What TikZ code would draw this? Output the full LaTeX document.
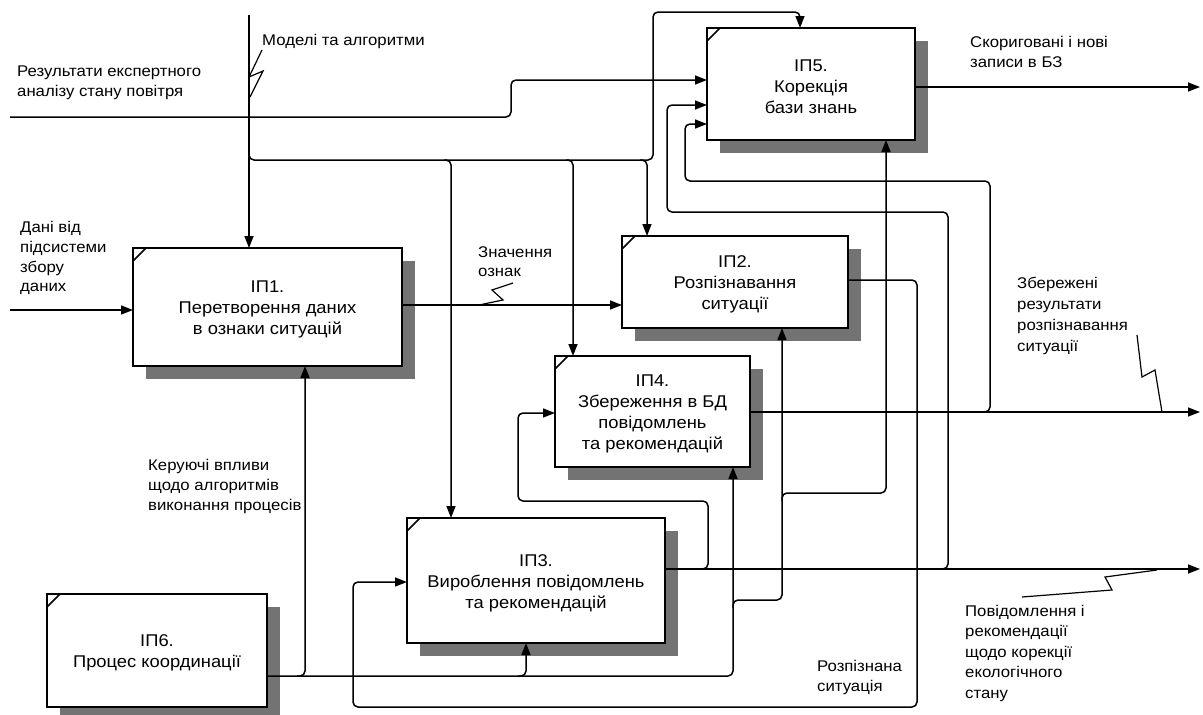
\documentclass[tikz,border=0pt]{standalone}
\usepackage{fontspec}
\setmainfont[FakeStretch=1.08]{Liberation Sans}
\usetikzlibrary{arrows.meta}
\newcommand\idefbox[6]{%
  \fill[shadowfill] (#2+13,#3+13) rectangle ++(#4,#5);
  \node[box, minimum width=#4pt, minimum height=#5pt] (#1) at (#2,#3) {};
  \node[boxtext] (#1t) at ([yshift=-2.5pt]#1.center) {#6};
  \draw[conn] (#2,#3+13) -- (#2+13,#3);
}
\begin{document}
\begin{tikzpicture}[x=1pt,y=-1pt,
  box/.style={draw, line width=2.6pt, fill=white, inner sep=0pt, outer sep=0pt,
    anchor=north west},
  boxtext/.style={inner sep=0pt, align=center, font=\fontsize{17}{21}\selectfont},
  shadowfill/.style={fill=black!55},
  lbl/.style={anchor=north west, align=left, inner sep=0pt,
    font=\fontsize{15.5}{19.8}\selectfont},
  conn/.style={line width=1.5pt, rounded corners=5pt},
  arr/.style={conn, -{Triangle[length=12pt,width=9pt]}},
  zig/.style={line width=1.2pt},
]
\useasboundingbox (0,0) rectangle (1203,715);
\fill[white] (0,0) rectangle (1203,715);
\clip (0,0) rectangle (1203,715);

% boxes
\idefbox{p1}{133}{248}{269}{118}{ІП1.\\Перетворення даних\\в ознаки ситуацій}
\idefbox{p5}{707}{28}{208}{112}{ІП5.\\Корекція\\бази знань}
\idefbox{p2}{622}{236}{226}{92}{ІП2.\\Розпізнавання\\ситуації}
\idefbox{p4}{555}{356}{195}{111}{ІП4.\\Збереження в БД\\повідомлень\\та рекомендацій}
\idefbox{p3}{407}{518}{258}{125}{ІП3.\\Вироблення повідомлень\\та рекомендацій}
\idefbox{p6}{47}{594}{220}{113}{ІП6.\\Процес координації}

% free ends
\coordinate (m0) at (249,15);
\coordinate (r0) at (10,117);
\coordinate (d0) at (10,310);
\coordinate (o5) at (1200,87);
\coordinate (o4) at (1200,412);
\coordinate (o3) at (1200,569);

% models & algorithms (control)
\draw[arr] (m0) -- (m0 |- p1.north);
\draw[arr] (249,150) -- (249,160) -- (653,160) -- (653,12) -- (800,12) -- (p5.north -| 800,0);
\draw[arr] (444,160) -- (451,160) -- (p3.north -| 451,0);
\draw[arr] (566,160) -- (573,160) -- (p4.north -| 573,0);
\draw[arr] (640,160) -- (647,160) -- (p2.north -| 647,0);

% expert analysis
\draw[arr] (r0) -- (511,117) -- (511,80) -- (p5.west |- 0,80);
% input data
\draw[arr] (d0) -- (p1.west |- d0);
% IP1 -> IP2
\draw[arr] (p1.east |- 0,305) -- (p2.west |- 0,305);
% IP2 output loop -> IP3
\draw[arr] (p2.east |- 0,280) -- (917,280) -- (917,707) -- (353,707) -- (353,582) -- (p3.west |- 0,582);
% IP3 output
\draw[arr] (p3.east |- 0,569) -- (o3);
\draw[arr] (700,569) -- (708,569) -- (708,501) -- (518,501) -- (518,413) -- (p4.west |- 0,413);
\draw[arr] (940,569) -- (948,569) -- (948,212) -- (667,212) -- (667,105) -- (p5.west |- 0,105);
% IP4 output
\draw[arr] (p4.east |- 0,412) -- (o4);
\draw[arr] (982,412) -- (990,412) -- (990,181) -- (685,181) -- (685,124) -- (p5.west |- 0,124);
% IP5 output
\draw[arr] (p5.east |- 0,87) -- (o5);
% IP6 output (mechanisms)
\draw[arr] (p6.east |- 0,676) -- (733,676) -- (p4.south -| 733,0);
\draw[arr] (297,676) -- (305,676) -- (p1.south -| 305,0);
\draw[arr] (518,676) -- (526,676) -- (p3.south -| 526,0);
\draw[arr] (733,608) -- (733,600) -- (782,600) -- (p2.south -| 782,0);
\draw[arr] (782,501) -- (782,493) -- (886,493) -- (p5.south -| 886,0);

% squiggles
\draw[zig] (262,50) -- (249,77) -- (263,71) -- (250,97);
\draw[zig] (513,283) -- (492,290) -- (503,300) -- (479,305);
\draw[zig] (1137,335) -- (1142,377) -- (1155,370) -- (1162,412);
\draw[zig] (1157,570) -- (1105,577) -- (1112,590) -- (1022,597);

% labels
\node[lbl] (tm) at (262,34) {Моделі та алгоритми};
\node[lbl] (tr) at (17,66) {Результати експертного\\аналізу стану повітря};
\node[lbl] (td) at (20,221) {Дані від\\підсистеми\\збору\\даних};
\node[lbl] (tz) at (478,246) {Значення\\ознак};
\node[lbl] (tk) at (148,459) {Керуючі впливи\\щодо алгоритмів\\виконання процесів};
\node[lbl] (ts) at (970,36) {Скориговані і нові\\записи в БЗ};
\node[lbl, font=\fontsize{15.5}{21}\selectfont] (tb) at (1017,277) {Збережені\\результати\\розпізнавання\\ситуації};
\node[lbl, font=\fontsize{15.5}{20.5}\selectfont] (tp) at (965,605) {Повідомлення і\\рекомендації\\щодо корекції\\екологічного\\стану};
\node[lbl] (tn) at (817,660) {Розпізнана\\ситуація};
\end{tikzpicture}
\end{document}
